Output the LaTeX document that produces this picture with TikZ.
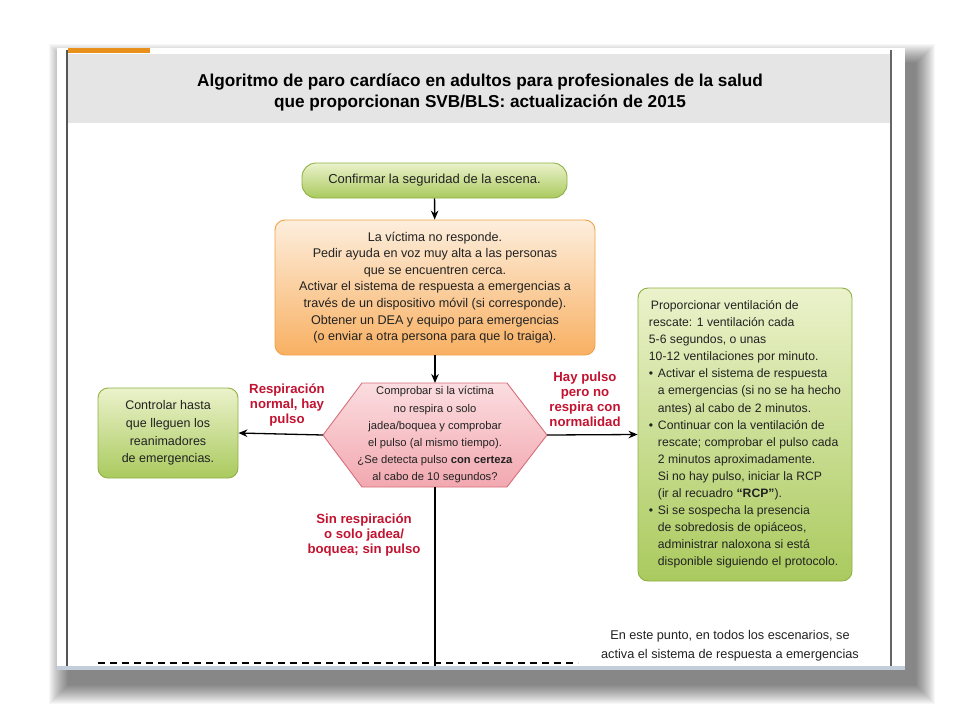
\documentclass[tikz,border=0pt]{standalone}
\usepackage{fontspec}
\setmainfont{Liberation Sans}
\usetikzlibrary{arrows.meta,positioning,calc}
\definecolor{greentop}{HTML}{EBF2CB}
\definecolor{greenbot}{HTML}{AACA5E}
\definecolor{greenedge}{HTML}{8FB043}
\definecolor{orangetop}{HTML}{FDEEDD}
\definecolor{orangebot}{HTML}{F8B062}
\definecolor{orangeedge}{HTML}{F0A247}
\definecolor{pinktop}{HTML}{FBDDE0}
\definecolor{pinkbot}{HTML}{F2A8B0}
\definecolor{pinkedge}{HTML}{D56E7B}
\definecolor{alertred}{HTML}{C21431}
\definecolor{darktext}{HTML}{222222}
\definecolor{headgray}{HTML}{E5E5E5}
\definecolor{taborange}{HTML}{E8901C}
\definecolor{pagerule}{HTML}{555555}
\definecolor{barblue}{HTML}{C3CEDA}

\tikzset{
  greenbox/.style={draw=greenedge, line width=0.9pt, rounded corners=10pt,
    top color=greentop, bottom color=greenbot, text=darktext},
  flow/.style={line width=1.3pt, -{Stealth[length=9pt,width=7.5pt]}},
  alertlabel/.style={text=alertred, align=center,
    font=\fontsize{13.2}{15}\selectfont\bfseries}
}

\begin{document}
\begin{tikzpicture}[x=1pt, y=-1pt]
\useasboundingbox (0,0) rectangle (960,720);

% page with its shadow
\foreach \i in {0,...,19}
  \fill[black, opacity=0.032] (49+\i,44+\i) rectangle (935-\i,704-\i);
\fill[white] (57,48) rectangle (905,668);
\draw[pagerule, line width=1.2pt] (67,50) -- (67,668);
\draw[pagerule!90, line width=1.2pt] (891,50) -- (891,668);
\fill[taborange] (68,48) rectangle (150,53);
\fill[headgray] (68,54) rectangle (890,123);
\fill[barblue] (57,666) rectangle (905,670);

% title
\node[align=center, font=\fontsize{17.2}{21}\selectfont\bfseries, text=black] (title) at (480,92)
  {Algoritmo de paro cardíaco en adultos para profesionales de la salud\\
   que proporcionan SVB/BLS: actualización de 2015};

% steps
\node[greenbox, rounded corners=14pt, minimum width=265pt, minimum height=35pt,
  font=\fontsize{13}{16}\selectfont] (confirm) at (434.5,180.5)
  {Confirmar la seguridad de la escena.};

\node[draw=orangeedge, line width=0.9pt, rounded corners=10pt, top color=orangetop,
  bottom color=orangebot, minimum width=320pt, minimum height=135pt, align=center,
  text=darktext, font=\fontsize{12.6}{16.6}\selectfont] (unresp) at (435,287.5)
  {La víctima no responde.\\
   Pedir ayuda en voz muy alta a las personas\\
   que se encuentren cerca.\\
   Activar el sistema de respuesta a emergencias a\\
   través de un dispositivo móvil (si corresponde).\\
   Obtener un DEA y equipo para emergencias\\
   (o enviar a otra persona para que lo traiga).};

% decision
\coordinate (checkN) at (435,383);
\coordinate (checkS) at (435,487);
\coordinate (checkW) at (323,435);
\coordinate (checkE) at (547,435);
\draw[draw=pinkedge, line width=0.9pt, top color=pinktop, bottom color=pinkbot]
  (checkW) -- (362,383) -- (507,383) -- (checkE) -- (507,487) -- (362,487) -- cycle;
\node[align=center, text=darktext, font=\fontsize{11.2}{17.2}\selectfont] (check) at (435,435)
  {Comprobar si la víctima\\
   no respira o solo\\
   jadea/boquea y comprobar\\
   el pulso (al mismo tiempo).\\
   ¿Se detecta pulso \textbf{con certeza}\\
   al cabo de 10 segundos?};

\node[greenbox, minimum width=140pt, minimum height=90pt, align=center,
  font=\fontsize{12.5}{17.7}\selectfont] (monitor) at (168,433)
  {Controlar hasta\\ que lleguen los\\ reanimadores\\ de emergencias.};

\node[greenbox, minimum width=214pt, minimum height=293pt, align=left,
  font=\fontsize{12.2}{17.1}\selectfont] (rescue) at (745,434.5)
  {\hspace*{2pt}Proporcionar ventilación de\\
   rescate: 1 ventilación cada\\
   5-6 segundos, o unas\\
   10-12 ventilaciones por minuto.\\
   \makebox[9pt][l]{\textbullet}Activar el sistema de respuesta\\
   \hspace*{9pt}a emergencias (si no se ha hecho\\
   \hspace*{9pt}antes) al cabo de 2 minutos.\\
   \makebox[9pt][l]{\textbullet}Continuar con la ventilación de\\
   \hspace*{9pt}rescate; comprobar el pulso cada\\
   \hspace*{9pt}2 minutos aproximadamente.\\
   \hspace*{9pt}Si no hay pulso, iniciar la RCP\\
   \hspace*{9pt}(ir al recuadro \textbf{“RCP”}).\\
   \makebox[9pt][l]{\textbullet}Si se sospecha la presencia\\
   \hspace*{9pt}de sobredosis de opiáceos,\\
   \hspace*{9pt}administrar naloxona si está\\
   \hspace*{9pt}disponible siguiendo el protocolo.};

% branch labels
\node[alertlabel] (normal) at (287,405) {Respiración\\ normal, hay\\ pulso};
\node[alertlabel] (pulse) at (585,399) {Hay pulso\\ pero no\\ respira con\\ normalidad};
\node[alertlabel] (nopulse) at (364,535) {Sin respiración\\ o solo jadea/\\ boquea; sin pulso};

% connectors
\coordinate (pageend) at (435,666);
\draw[flow] (confirm) -- (unresp);
\draw[flow] (unresp.south) -- (checkN);
\draw[flow] (checkW) -- (monitor.east);
\draw[flow] (checkE) -- (rescue.west);
\draw[line width=1.4pt] (checkS) -- (pageend);

% bottom of the page
\coordinate (dashL) at (98,663);
\coordinate (dashR) at (578,663);
\draw[line width=1.8pt, dash pattern=on 7pt off 5pt] (dashL) -- (dashR);
\node[align=center, text=darktext, font=\fontsize{12.7}{19}\selectfont] (noteall) at (730,646)
  {En este punto, en todos los escenarios, se\\
   activa el sistema de respuesta a emergencias};
\end{tikzpicture}
\end{document}
